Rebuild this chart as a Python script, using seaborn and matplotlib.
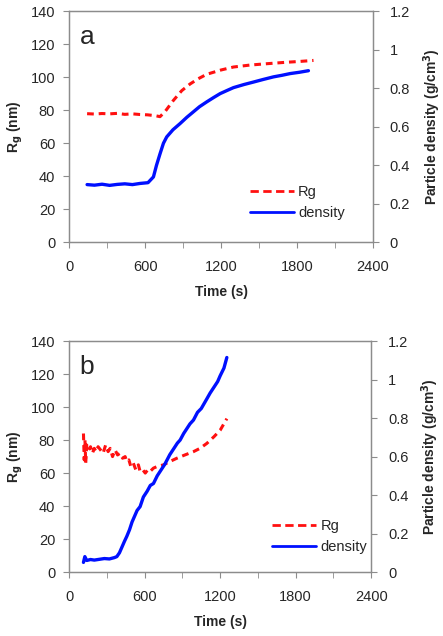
#%% bibliotecas
import pandas as pd
import seaborn as sns
import matplotlib.pyplot as plt
from matplotlib.ticker import MultipleLocator
from matplotlib.lines import Line2D

sns.set_style("ticks")
plt.rcParams['font.family'] = ['Liberation Sans', 'DejaVu Sans']

#%% dados lidos do gráfico
# painel a
t_rg_a = [142, 200, 260, 320, 380, 440, 500, 560, 620, 680, 718, 760, 823, 890, 955, 1020, 1087, 1200, 1298, 1430, 1561, 1700, 1824, 1930]
rg_a = [78.0, 77.8, 78.1, 77.9, 78.2, 77.6, 77.9, 77.5, 77.3, 76.8, 76.2, 79.5, 86.0, 92.0, 96.0, 99.2, 101.9, 104.5, 106.3, 107.5, 108.3, 109.1, 109.7, 110.3]
t_den_a = [142, 200, 260, 320, 380, 440, 500, 560, 623, 666, 690, 718, 745, 771, 820, 876, 930, 981, 1030, 1087, 1140, 1193, 1250, 1298, 1380, 1456, 1530, 1614, 1680, 1745, 1820, 1890]
den_a = [0.300, 0.297, 0.302, 0.296, 0.301, 0.304, 0.300, 0.306, 0.310, 0.340, 0.400, 0.460, 0.515, 0.548, 0.585, 0.617, 0.650, 0.678, 0.705, 0.730, 0.752, 0.773, 0.790, 0.804, 0.820, 0.833, 0.846, 0.860, 0.868, 0.877, 0.884, 0.892]

# painel b
t_rg_b = [114, 120, 126, 132, 140, 155, 170, 185, 200, 215, 230, 250, 270, 290, 310, 326, 345, 365, 385, 405, 425, 445, 458, 475, 490, 510, 530, 550, 564, 585, 605, 625, 644, 670, 700, 750, 800, 856, 920, 988, 1040, 1094, 1150, 1200, 1253]
rg_b = [84, 68, 80, 66, 77, 74, 76, 72, 75, 73, 76, 74, 72, 77, 73, 75, 70, 74, 71, 72, 69, 70, 67, 68, 64, 66, 62, 65, 61, 62, 60, 62, 61, 63, 64, 65, 67, 69, 71, 73, 75, 78, 82, 86, 93]
t_den_b = [114, 125, 140, 170, 200, 240, 280, 320, 360, 379, 400, 420, 440, 458, 480, 500, 520, 540, 564, 590, 620, 645, 670, 700, 730, 760, 776, 800, 830, 860, 882, 910, 940, 960, 988, 1020, 1050, 1094, 1120, 1150, 1180, 1200, 1230, 1253]
den_b = [0.050, 0.080, 0.060, 0.065, 0.062, 0.066, 0.070, 0.068, 0.075, 0.080, 0.100, 0.130, 0.160, 0.185, 0.220, 0.260, 0.290, 0.320, 0.340, 0.390, 0.420, 0.450, 0.460, 0.500, 0.530, 0.560, 0.580, 0.610, 0.640, 0.670, 0.686, 0.720, 0.750, 0.770, 0.790, 0.830, 0.850, 0.900, 0.930, 0.960, 0.990, 1.020, 1.060, 1.115]

dens_ticks = [0, 0.2, 0.4, 0.6, 0.8, 1.0, 1.2]
dens_labels = ['0', '0.2', '0.4', '0.6', '0.8', '1', '1.2']

paineis = [
    ("a", t_rg_a, rg_a, t_den_a, den_a),
    ("b", t_rg_b, rg_b, t_den_b, den_b),
]

#%% gráfico
fig = plt.figure(figsize=(4.43, 6.36), dpi=100)
posicoes = [[0.156, 0.619, 0.686, 0.363], [0.156, 0.1006, 0.682, 0.363]]
legenda_pos = [(0.95, 0.04), (1.03, 0.02)]
cinza = '#8c8c8c'
vermelho = '#ff1010'
azul = '#0010ff'

for (letra, t_rg, rg, t_den, den), pos, leg in zip(paineis, posicoes, legenda_pos):
    ax = fig.add_axes(pos)
    ax2 = ax.twinx()

    df_rg = pd.DataFrame({'t': t_rg, 'rg': rg})
    df_den = pd.DataFrame({'t': t_den, 'den': den})
    sns.lineplot(data=df_rg, x='t', y='rg', ax=ax, color=vermelho, lw=2.2,
                 linestyle=(0, (2.2, 1.6)), zorder=3)
    sns.lineplot(data=df_den, x='t', y='den', ax=ax2, color=azul, lw=2.4)

    ax.set_xlim(0, 2400)
    ax.set_ylim(0, 140)
    ax2.set_ylim(0, 1.2)
    ax.xaxis.set_major_locator(MultipleLocator(600))
    ax.xaxis.set_minor_locator(MultipleLocator(300))
    ax.set_yticks(range(0, 141, 20))
    ax2.set_yticks(dens_ticks)
    ax2.set_yticklabels(dens_labels)

    for a_ in (ax, ax2):
        for s in a_.spines.values():
            s.set_visible(True)
            s.set_color(cinza)
            s.set_linewidth(0.9)
    ax.tick_params(axis='x', which='both', length=4, color=cinza, labelsize=10.5, pad=9)
    ax.tick_params(axis='y', length=4, color=cinza, labelsize=10.5, pad=6)
    ax2.tick_params(axis='y', length=4, color=cinza, labelsize=10.5, pad=8)

    ax.set_xlabel('Time (s)', fontsize=10, fontweight='bold', labelpad=8)
    ax.set_ylabel('R$_\\mathbf{g}$ (nm)', fontsize=10, fontweight='bold', labelpad=4)
    ax2.set_ylabel('Particle density (g/cm$^\\mathbf{3}$)', fontsize=10, fontweight='bold', labelpad=8)

    ax.text(0.035, 0.94, letra, transform=ax.transAxes, fontsize=19, va='top')

    handles = [Line2D([], [], color=vermelho, lw=2, linestyle=(0, (3, 1.6))),
               Line2D([], [], color=azul, lw=2)]
    ax.legend(handles, ['Rg', 'density'], loc='lower right', frameon=False,
              fontsize=10.5, handlelength=3.0, handletextpad=0.3,
              bbox_to_anchor=leg)

fig.savefig('out.png', dpi=100)
